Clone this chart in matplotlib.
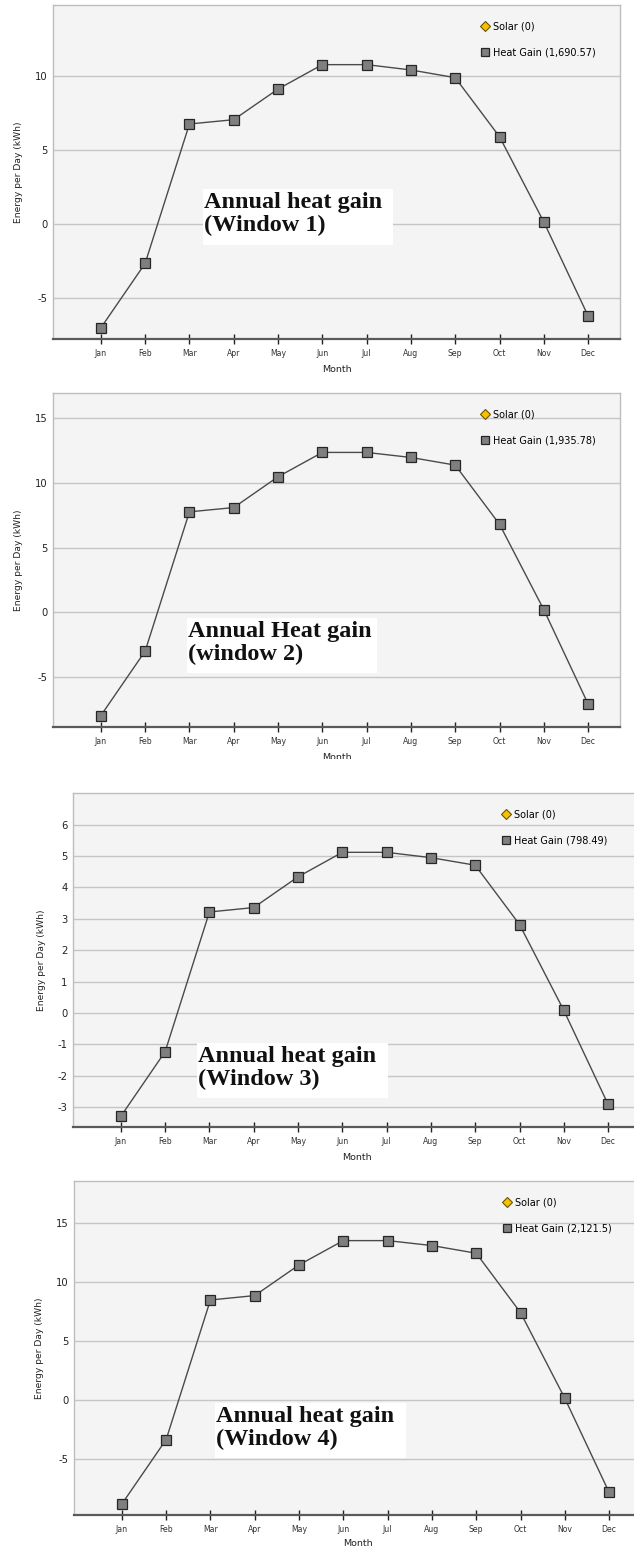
import matplotlib
matplotlib.use('Agg')
import matplotlib.pyplot as plt
from matplotlib.lines import Line2D
from matplotlib.patches import Rectangle
from matplotlib.transforms import Bbox

# ---------------- data ----------------
months = ['Jan', 'Feb', 'Mar', 'Apr', 'May', 'Jun',
          'Jul', 'Aug', 'Sep', 'Oct', 'Nov', 'Dec']

heat_gain_w1 = [-7.00, -2.64, 6.78, 7.07, 9.14, 10.79, 10.79, 10.43, 9.91, 5.92, 0.16, -6.19]
heat_gain_w2 = [-7.97, -2.99, 7.77, 8.10, 10.48, 12.36, 12.36, 11.97, 11.38, 6.81, 0.21, -7.07]
heat_gain_w3 = [-3.29, -1.23, 3.22, 3.36, 4.34, 5.12, 5.12, 4.95, 4.71, 2.82, 0.085, -2.91]
heat_gain_w4 = [-8.79, -3.33, 8.50, 8.87, 11.47, 13.53, 13.53, 13.11, 12.46, 7.43, 0.17, -7.80]

solar_totals = ['0', '0', '0', '0']
heat_gain_totals = ['1,690.57', '1,935.78', '798.49', '2,121.5']

titles = ['Annual heat gain\n(Window 1)',
          'Annual Heat gain\n(window 2)',
          'Annual heat gain\n(Window 3)',
          'Annual heat gain\n(Window 4)']

yticks_w1 = [-5, 0, 5, 10]
yticks_w2 = [-5, 0, 5, 10, 15]
yticks_w3 = [-3, -2, -1, 0, 1, 2, 3, 4, 5, 6]
yticks_w4 = [-5, 0, 5, 10, 15]

x_label = 'Month'
y_label = 'Energy per Day (kWh)'

# ---------------- layout (pixels) ----------------
W, H = 634, 1546
DPI = 100
fig = plt.figure(figsize=(W / DPI, H / DPI), dpi=DPI)
fig.patch.set_facecolor('white')


def fx(x):
    return x / W


def fy(y):
    return 1 - y / H


panels = [
    dict(series=heat_gain_w1, yt=yticks_w1, box=(53, 5, 620, 339), ylim=(-7.75, 14.82),
         legx=481, note=(203, 189, 393, 245), clip=None, xpad=5),
    dict(series=heat_gain_w2, yt=yticks_w2, box=(53, 393, 620, 727), ylim=(-8.85, 16.95),
         legx=481, note=(187, 618, 377, 673), clip=759, xpad=5),
    dict(series=heat_gain_w3, yt=yticks_w3, box=(73, 793, 640, 1127), ylim=(-3.63, 7.01),
         legx=502, note=(197, 1043, 388, 1098), clip=None, xpad=5),
    dict(series=heat_gain_w4, yt=yticks_w4, box=(74, 1181, 641, 1515), ylim=(-9.72, 18.58),
         legx=503, note=(215, 1403, 406, 1458), clip=None, xpad=3.5),
]

LINE_C = '#4a4a4a'
MK_FACE = '#7f7f7f'
MK_EDGE = '#262626'
GRID_C = '#c6c6c6'
BG = '#f4f4f4'

for i, p in enumerate(panels):
    l, t, r, b = p['box']
    ax = fig.add_axes([fx(l), fy(b), fx(r) - fx(l), fy(t) - fy(b)])
    ax.set_facecolor(BG)
    x = list(range(len(months)))
    ax.plot(x, p['series'], color=LINE_C, lw=1.0, marker='s', ms=6.6,
            mfc=MK_FACE, mec=MK_EDGE, mew=0.9, zorder=3, clip_on=False)
    ax.set_xlim(-1.08, 11.72)
    ax.set_ylim(*p['ylim'])
    ax.set_xticks(x)
    ax.set_xticklabels(months)
    ax.set_yticks(p['yt'])
    ax.set_yticklabels([str(v) for v in p['yt']])
    ax.grid(axis='y', color=GRID_C, lw=1.0)
    ax.grid(axis='x', visible=False)
    for s in ('left', 'top', 'right'):
        ax.spines[s].set_color('#bdbdbd')
        ax.spines[s].set_linewidth(1.0)
    ax.spines['bottom'].set_color('#5a5a5a')
    ax.spines['bottom'].set_linewidth(1.6)
    ax.tick_params(axis='y', length=0, pad=4, labelsize=7.2, labelcolor='#222222')
    ax.tick_params(axis='x', direction='inout', length=7, width=1.0, color='#222222',
                   pad=4, labelsize=5.6, labelcolor='#333333')
    ax.set_xlabel(x_label, fontsize=6.8, labelpad=p['xpad'], color='#222222')
    ax.set_ylabel(y_label, fontsize=6.6, labelpad=8.5, color='#222222')
    if p['clip'] is not None:
        lab = ax.xaxis.label
        lab.set_clip_on(True)
        lab.set_clip_box(Bbox.from_extents(0, H - p['clip'], W, H))

    # legend
    handles = [
        Line2D([], [], ls='none', marker='D', ms=5.6, mfc='#f6c200', mec='#6b5300', mew=0.8),
        Line2D([], [], ls='none', marker='s', ms=5.4, mfc=MK_FACE, mec=MK_EDGE, mew=0.9),
    ]
    labels = ['Solar (%s)' % solar_totals[i], 'Heat Gain (%s)' % heat_gain_totals[i]]
    ax.legend(handles, labels, loc='upper left',
              bbox_to_anchor=(fx(p['legx']), fy(t + 16.5)), bbox_transform=fig.transFigure,
              frameon=False, fontsize=7.0, handlelength=0.8, handletextpad=0.45,
              labelspacing=1.68, borderpad=0, borderaxespad=0)

    # annotation box with title text
    nl, nt, nr, nb = p['note']
    rect = Rectangle((fx(nl), fy(nb)), fx(nr) - fx(nl), fy(nt) - fy(nb),
                     transform=fig.transFigure, facecolor='white', edgecolor='none',
                     zorder=1.8)
    ax.add_patch(rect)
    ax.text(fx(nl + 0.5), fy(nt + 3), titles[i], transform=fig.transFigure,
            family='Liberation Serif', fontweight='bold', fontsize=17.5,
            ha='left', va='top', linespacing=1.1, color='#111111', zorder=4)

fig.savefig('out.png', dpi=DPI, facecolor='white')
